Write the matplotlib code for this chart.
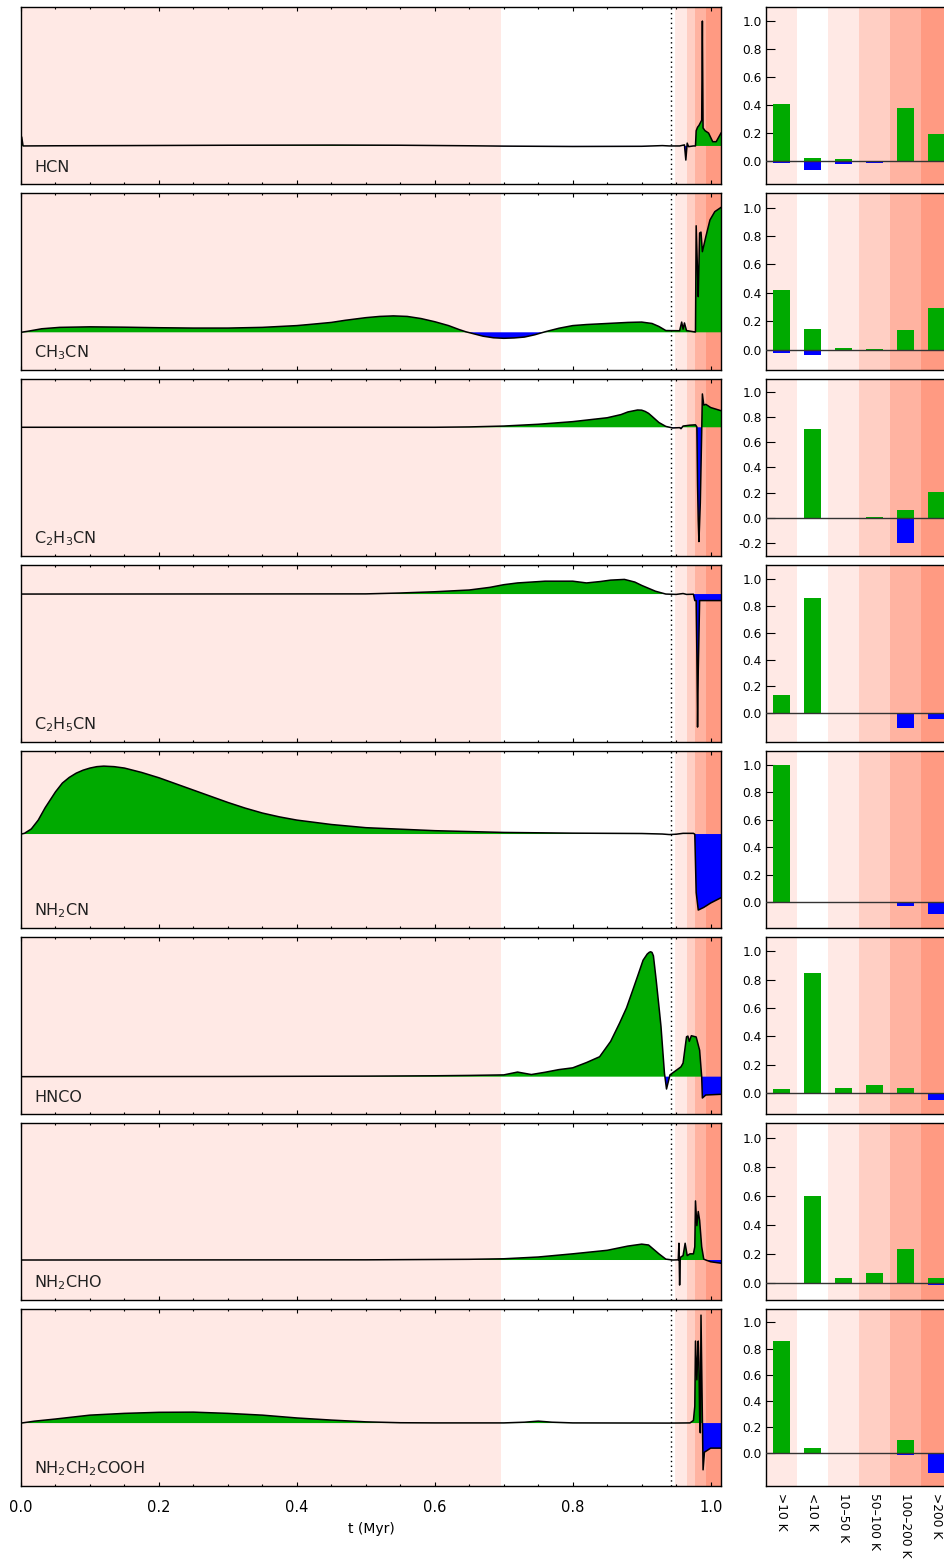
import numpy as np
import matplotlib
matplotlib.use("Agg")
import matplotlib.pyplot as plt

plt.rcParams["font.family"] = ["DejaVu Sans"]
plt.rcParams["mathtext.default"] = "regular"

# species, in panel order
species = ["HCN", "CH$_3$CN", "C$_2$H$_3$CN", "C$_2$H$_5$CN", "NH$_2$CN",
           "HNCO", "NH$_2$CHO", "NH$_2$CH$_2$COOH"]

# temperature bins for the contribution bars
bins = [">10 K", "<10 K", "10–50 K", "50–100 K", "100–200 K", ">200 K"]

# time boundaries of the temperature regimes (Myr)
regime_edges = [0.0, 0.696, 0.948, 0.965, 0.977, 0.993, 1.015]
t_snap = 0.943

# evolution curves (panel-normalised) and their reference level
base_hcn = 0.214
t_hcn = [0, 0.001, 0.003, 0.05, 0.15, 0.3, 0.45, 0.55, 0.65, 0.7, 0.8, 0.9,
         0.93, 0.94, 0.955, 0.962, 0.964, 0.966, 0.968, 0.975, 0.978, 0.979,
         0.981, 0.983, 0.985, 0.987, 0.988, 0.989, 0.992, 0.997, 1.003, 1.008,
         1.015]
y_hcn = [0.214, 0.265, 0.214, 0.215, 0.216, 0.218, 0.219, 0.218, 0.215, 0.213,
         0.211, 0.212, 0.216, 0.214, 0.214, 0.22, 0.134, 0.23, 0.21, 0.214,
         0.214, 0.30, 0.32, 0.33, 0.345, 0.36, 0.922, 0.316, 0.30, 0.287,
         0.238, 0.238, 0.287]

base_ch3cn = 0.212
t_ch3cn = [0, 0.01, 0.03, 0.056, 0.1, 0.15, 0.2, 0.25, 0.3, 0.35, 0.4, 0.42,
           0.45, 0.47, 0.5, 0.52, 0.54, 0.56, 0.58, 0.6, 0.62, 0.635, 0.645,
           0.66, 0.67, 0.685, 0.7, 0.715, 0.73, 0.745, 0.76, 0.78, 0.8, 0.82,
           0.85, 0.88, 0.9, 0.915, 0.925, 0.935, 0.955, 0.958, 0.96, 0.962,
           0.965, 0.977, 0.978, 0.979, 0.981, 0.982, 0.984, 0.986, 0.988,
           0.993, 0.999, 1.006, 1.015]
y_ch3cn = [0.212, 0.218, 0.232, 0.240, 0.243, 0.241, 0.238, 0.236, 0.236,
           0.240, 0.250, 0.257, 0.268, 0.28, 0.295, 0.302, 0.305, 0.302, 0.29,
           0.272, 0.25, 0.228, 0.215, 0.2, 0.19, 0.181, 0.178, 0.18, 0.185,
           0.198, 0.215, 0.235, 0.25, 0.256, 0.262, 0.268, 0.27, 0.262, 0.245,
           0.222, 0.221, 0.27, 0.23, 0.265, 0.222, 0.214, 0.214, 0.816, 0.55,
           0.414, 0.775, 0.78, 0.669, 0.754, 0.849, 0.896, 0.92]

base_c2h3cn = 0.728
t_c2h3cn = [0, 0.6, 0.65, 0.7, 0.75, 0.8, 0.85, 0.87, 0.88, 0.894, 0.9, 0.905,
            0.91, 0.915, 0.925, 0.935, 0.945, 0.955, 0.957, 0.96, 0.97, 0.978,
            0.98, 0.981, 0.982, 0.983, 0.985, 0.987, 0.988, 0.99, 0.993, 1.0,
            1.015]
y_c2h3cn = [0.728, 0.728, 0.73, 0.735, 0.745, 0.76, 0.782, 0.80, 0.815, 0.826,
            0.825, 0.818, 0.807, 0.79, 0.755, 0.733, 0.724, 0.726, 0.72,
            0.735, 0.74, 0.742, 0.73, 0.40, 0.2, 0.08, 0.30, 0.7, 0.917, 0.854,
            0.858, 0.84, 0.822]

base_c2h5cn = 0.837
t_c2h5cn = [0, 0.5, 0.55, 0.6, 0.65, 0.68, 0.7, 0.72, 0.74, 0.76, 0.8, 0.82,
            0.84, 0.855, 0.875, 0.89, 0.9, 0.92, 0.935, 0.95, 0.96, 0.965,
            0.975, 0.977, 0.979, 0.98, 0.981, 0.982, 0.984, 0.99, 1.015]
y_c2h5cn = [0.837, 0.838, 0.843, 0.85, 0.86, 0.875, 0.89, 0.9, 0.905, 0.91,
            0.91, 0.9, 0.908, 0.916, 0.92, 0.905, 0.886, 0.853, 0.837, 0.835,
            0.84, 0.835, 0.836, 0.80, 0.80, 0.5, 0.083, 0.4, 0.80, 0.80, 0.80]

base_nh2cn = 0.531
t_nh2cn = [0, 0.005, 0.015, 0.025, 0.035, 0.05, 0.06, 0.07, 0.08, 0.09, 0.1,
           0.11, 0.12, 0.135, 0.15, 0.175, 0.2, 0.225, 0.25, 0.275, 0.3,
           0.325, 0.35, 0.375, 0.4, 0.45, 0.5, 0.6, 0.7, 0.8, 0.9, 0.93,
           0.94, 0.95, 0.96, 0.975, 0.977, 0.979, 0.982, 0.99, 1.0, 1.015]
y_nh2cn = [0.531, 0.535, 0.56, 0.61, 0.68, 0.77, 0.82, 0.852, 0.876, 0.893,
           0.905, 0.913, 0.916, 0.913, 0.905, 0.88, 0.85, 0.815, 0.78, 0.745,
           0.71, 0.678, 0.65, 0.628, 0.61, 0.585, 0.567, 0.55, 0.54, 0.536,
           0.534, 0.531, 0.528, 0.53, 0.535, 0.535, 0.53, 0.2, 0.1, 0.115,
           0.14, 0.17]

base_hnco = 0.21
t_hnco = [0, 0.3, 0.5, 0.6, 0.65, 0.7, 0.72, 0.74, 0.76, 0.78, 0.8, 0.82,
          0.839, 0.855, 0.868, 0.878, 0.887, 0.895, 0.902, 0.908, 0.911,
          0.913, 0.915, 0.917, 0.921, 0.926, 0.928, 0.933, 0.936, 0.941,
          0.955, 0.957, 0.96, 0.965, 0.967, 0.969, 0.972, 0.979, 0.984,
          0.987, 0.988, 0.993, 1.015]
y_hnco = [0.21, 0.211, 0.213, 0.215, 0.217, 0.22, 0.236, 0.222, 0.235, 0.25,
          0.26, 0.29, 0.323, 0.41, 0.514, 0.60, 0.70, 0.79, 0.87, 0.905,
          0.915, 0.918, 0.914, 0.895, 0.758, 0.571, 0.494, 0.23, 0.14, 0.22,
          0.26, 0.266, 0.287, 0.436, 0.44, 0.41, 0.442, 0.435, 0.36, 0.21,
          0.089, 0.106, 0.11]

base_nh2cho = 0.225
t_nh2cho = [0, 0.5, 0.6, 0.65, 0.7, 0.75, 0.8, 0.85, 0.88, 0.9, 0.91, 0.925,
            0.935, 0.945, 0.953, 0.954, 0.955, 0.956, 0.96, 0.963, 0.966,
            0.97, 0.975, 0.977, 0.978, 0.98, 0.982, 0.984, 0.987, 0.99, 0.993,
            1.0, 1.015]
y_nh2cho = [0.225, 0.226, 0.228, 0.229, 0.232, 0.242, 0.26, 0.28, 0.304,
            0.315, 0.31, 0.26, 0.23, 0.225, 0.226, 0.32, 0.083, 0.24, 0.25,
            0.32, 0.25, 0.26, 0.26, 0.3, 0.56, 0.42, 0.50, 0.45, 0.3, 0.23,
            0.225, 0.215, 0.207]

base_gly = 0.355
t_gly = [0, 0.02, 0.05, 0.1, 0.15, 0.2, 0.25, 0.3, 0.35, 0.4, 0.45, 0.5, 0.55,
         0.6, 0.7, 0.73, 0.75, 0.77, 0.8, 0.94, 0.97, 0.975, 0.977, 0.978,
         0.98, 0.982, 0.983, 0.984, 0.985, 0.986, 0.989, 0.991, 0.995, 1.0,
         1.015]
y_gly = [0.355, 0.366, 0.378, 0.40, 0.41, 0.416, 0.417, 0.41, 0.40, 0.384,
         0.372, 0.362, 0.357, 0.356, 0.356, 0.36, 0.366, 0.36, 0.356, 0.355,
         0.356, 0.37, 0.45, 0.82, 0.6, 0.82, 0.7, 0.4, 0.3, 0.967, 0.09, 0.19,
         0.2, 0.213, 0.213]

# fractional contributions per temperature bin: gains and losses
gain_hcn = [0.405, 0.019, 0.012, 0.0, 0.377, 0.192]
loss_hcn = [-0.014, -0.062, -0.019, -0.012, -0.005, 0.0]
gain_ch3cn = [0.419, 0.145, 0.012, 0.003, 0.138, 0.293]
loss_ch3cn = [-0.023, -0.042, 0.0, 0.0, 0.0, 0.0]
gain_c2h3cn = [0.0, 0.709, 0.0, 0.01, 0.066, 0.209]
loss_c2h3cn = [-0.003, 0.0, -0.003, 0.0, -0.2, 0.0]
gain_c2h5cn = [0.14, 0.86, 0.0, 0.0, 0.0, 0.0]
loss_c2h5cn = [0.0, 0.0, 0.0, 0.0, -0.11, -0.04]
gain_nh2cn = [1.0, 0.0, 0.0, 0.0, 0.0, 0.0]
loss_nh2cn = [0.0, 0.0, 0.0, 0.0, -0.025, -0.085]
gain_hnco = [0.028, 0.847, 0.037, 0.056, 0.037, 0.0]
loss_hnco = [0.0, 0.0, 0.0, 0.0, -0.01, -0.047]
gain_nh2cho = [0.0, 0.6, 0.035, 0.07, 0.235, 0.035]
loss_nh2cho = [0.0, 0.0, 0.0, 0.0, 0.0, -0.015]
gain_gly = [0.861, 0.038, 0.0, 0.0, 0.099, 0.0]
loss_gly = [0.0, -0.003, -0.004, -0.004, -0.013, -0.147]

curves = [(t_hcn, y_hcn, base_hcn), (t_ch3cn, y_ch3cn, base_ch3cn),
          (t_c2h3cn, y_c2h3cn, base_c2h3cn), (t_c2h5cn, y_c2h5cn, base_c2h5cn),
          (t_nh2cn, y_nh2cn, base_nh2cn), (t_hnco, y_hnco, base_hnco),
          (t_nh2cho, y_nh2cho, base_nh2cho), (t_gly, y_gly, base_gly)]
bars = [(gain_hcn, loss_hcn), (gain_ch3cn, loss_ch3cn),
        (gain_c2h3cn, loss_c2h3cn), (gain_c2h5cn, loss_c2h5cn),
        (gain_nh2cn, loss_nh2cn), (gain_hnco, loss_hnco),
        (gain_nh2cho, loss_nh2cho), (gain_gly, loss_gly)]

pink1 = "#ffe9e5"
pink2 = "#ffcfc4"
pink3 = "#ffb3a1"
pink4 = "#ff9a82"
regime_colors = [pink1, "white", pink1, pink2, pink3, pink4]
green = "#00aa00"
blue = "#0000ff"

W, H = 944, 1564
fig = plt.figure(figsize=(W / 100.0, H / 100.0), dpi=100)

row_top, row_h, row_step = 7.3, 176.4, 186.0
for i in range(len(species)):
    top = row_top + i * row_step
    bottom = 1 - (top + row_h) / H
    hgt = row_h / H

    # time evolution panel
    ax = fig.add_axes([21.0 / W, bottom, 700.0 / W, hgt])
    for k in range(len(regime_colors)):
        ax.axvspan(regime_edges[k], regime_edges[k + 1],
                   color=regime_colors[k], lw=0, zorder=0)
    t, y, base = curves[i]
    t = np.array(t)
    y = np.array(y)
    ax.fill_between(t, base, y, where=y >= base, interpolate=True,
                    color=green, lw=0, zorder=2)
    ax.fill_between(t, base, y, where=y <= base, interpolate=True,
                    color=blue, lw=0, zorder=2)
    ax.plot(t, y, color="black", lw=1.1, zorder=3)
    ax.axvline(t_snap, color="black", ls=(0, (1, 2.5)), lw=1.0, zorder=4)
    ax.set_xlim(0, 1.015)
    ax.set_ylim(0, 1)
    ax.set_yticks([])
    ax.set_xticks(np.arange(0, 1.01, 0.2))
    ax.set_xticks(np.arange(0, 1.01, 0.05), minor=True)
    ax.tick_params(axis="x", which="both", direction="in", top=True,
                   bottom=True, width=0.8)
    ax.tick_params(axis="x", which="major", length=3, pad=10,
                   labelsize=10.5)
    ax.tick_params(axis="x", which="minor", length=1.7)
    for s in ax.spines.values():
        s.set_linewidth(1.0)
    ax.annotate(species[i], xy=(0, 0), xycoords="axes fraction",
                xytext=(13, 12), textcoords="offset pixels",
                ha="left", va="baseline", fontsize=11.5, color="#222222")
    if i == len(species) - 1:
        ax.set_xticklabels(["%.1f" % v for v in np.arange(0, 1.01, 0.2)])
        ax.set_xlabel("t (Myr)", fontsize=10, labelpad=5)
    else:
        ax.set_xticklabels([])

    # contributions per temperature bin
    bx = fig.add_axes([766.0 / W, bottom, 186.0 / W, hgt])
    for k in range(len(bins)):
        bx.axvspan(k - 0.5, k + 0.5, color=regime_colors[k], lw=0, zorder=0)
    gain, loss = bars[i]
    xs = np.arange(len(bins))
    bx.bar(xs, gain, width=0.52, color=green, zorder=2)
    bx.bar(xs, loss, width=0.52, color=blue, zorder=2)
    bx.axhline(0, color="#333333", lw=1.0, zorder=3)
    bx.set_xlim(-0.5, 5.5)
    bx.set_ylim(min(loss) - 0.1, 1.1)
    ticks = np.arange(0, 1.01, 0.2)
    if min(loss) - 0.1 < -0.25:
        ticks = np.arange(-0.2, 1.01, 0.2)
    bx.set_yticks(ticks)
    bx.set_yticklabels(["%.1f" % v for v in ticks])
    bx.tick_params(axis="y", direction="in", length=6.5, width=0.8,
                   labelsize=8.8, pad=3)
    bx.set_xticks(xs)
    bx.tick_params(axis="x", length=0, pad=5, labelsize=8.8)
    if i == len(species) - 1:
        bx.set_xticklabels(bins, rotation=-90)
    else:
        bx.set_xticklabels([])
    for s in bx.spines.values():
        s.set_linewidth(1.0)

fig.savefig("out.png", dpi=100)
